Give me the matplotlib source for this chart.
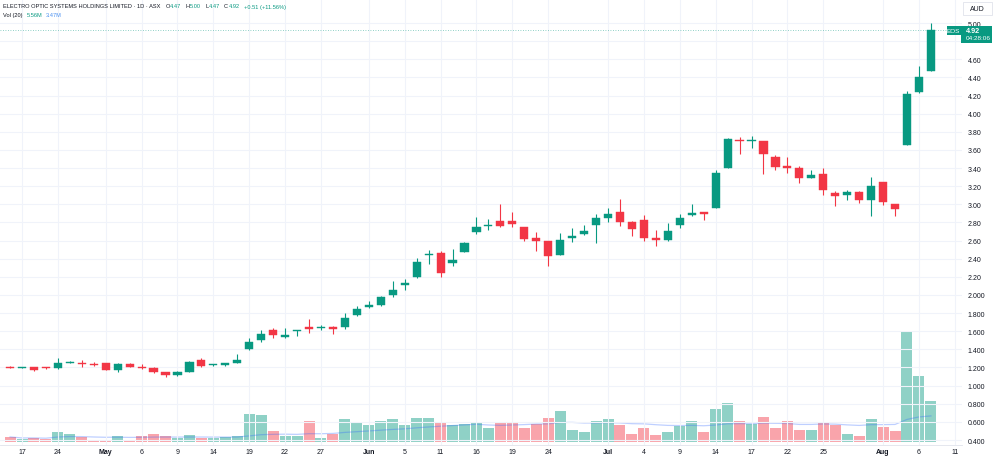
import numpy as np
import pandas as pd
import matplotlib
matplotlib.use("Agg")
import matplotlib.pyplot as plt
from matplotlib.patches import Rectangle

plt.rcParams['font.family'] = ['Liberation Sans', 'DejaVu Sans']

GREEN = '#089981'
RED = '#F23645'
TEXT = '#131722'
GRID = '#f0f3fa'

# ASX trading days, Apr 16 - Aug 7 2025 (plus a few empty slots on the right)
holidays = ["2025-04-18", "2025-04-21", "2025-04-25", "2025-06-09"]
days = pd.bdate_range("2025-04-16", "2025-08-12")
days = days[~days.isin(pd.to_datetime(holidays))]

opens = [1.20, 1.195, 1.20, 1.20, 1.19, 1.245, 1.25, 1.235, 1.25, 1.175, 1.24, 1.21, 1.19, 1.145, 1.115, 1.15, 1.28, 1.225, 1.23, 1.25,
         1.40, 1.50, 1.615, 1.535, 1.60, 1.64, 1.635, 1.65, 1.645, 1.78, 1.865, 1.885, 1.995, 2.11, 2.195, 2.445, 2.46, 2.35, 2.475, 2.69,
         2.765, 2.82, 2.82, 2.745, 2.63, 2.60, 2.445, 2.63, 2.675, 2.77, 2.845, 2.91, 2.81, 2.83, 2.63, 2.61, 2.77, 2.885, 2.92, 2.96,
         3.405, 3.715, 3.695, 3.70, 3.52, 3.42, 3.40, 3.29, 3.34, 3.12, 3.105, 3.14, 3.05, 3.245, 3.00, 3.65, 4.235, 4.47]
closes = [1.195, 1.20, 1.175, 1.19, 1.245, 1.255, 1.235, 1.225, 1.175, 1.24, 1.21, 1.19, 1.145, 1.115, 1.145, 1.265, 1.22, 1.235, 1.245, 1.285,
          1.48, 1.575, 1.555, 1.56, 1.61, 1.63, 1.645, 1.625, 1.75, 1.845, 1.885, 1.975, 2.055, 2.135, 2.365, 2.45, 2.245, 2.385, 2.57, 2.745,
          2.775, 2.765, 2.785, 2.62, 2.60, 2.43, 2.605, 2.65, 2.71, 2.85, 2.89, 2.80, 2.73, 2.63, 2.605, 2.71, 2.85, 2.905, 2.895, 3.35,
          3.72, 3.695, 3.705, 3.56, 3.415, 3.405, 3.285, 3.32, 3.155, 3.095, 3.14, 3.05, 3.205, 3.025, 2.945, 4.22, 4.41, 4.92]
highs = [1.215, 1.205, 1.21, 1.21, 1.31, 1.275, 1.28, 1.26, 1.25, 1.245, 1.245, 1.235, 1.20, 1.15, 1.165, 1.27, 1.305, 1.24, 1.25, 1.35,
         1.52, 1.61, 1.64, 1.635, 1.615, 1.74, 1.67, 1.655, 1.80, 1.875, 1.93, 1.985, 2.15, 2.18, 2.405, 2.495, 2.49, 2.505, 2.585, 2.86,
         2.84, 3.00, 2.91, 2.75, 2.70, 2.60, 2.68, 2.735, 2.77, 2.89, 2.96, 3.06, 2.815, 2.88, 2.72, 2.79, 2.89, 3.00, 2.92, 3.38,
         3.73, 3.74, 3.75, 3.70, 3.545, 3.525, 3.42, 3.38, 3.40, 3.145, 3.16, 3.145, 3.30, 3.25, 3.00, 4.25, 4.53, 5.00]
lows = [1.195, 1.19, 1.165, 1.185, 1.18, 1.245, 1.21, 1.215, 1.175, 1.155, 1.20, 1.18, 1.14, 1.10, 1.105, 1.15, 1.20, 1.215, 1.215, 1.245,
        1.39, 1.48, 1.53, 1.53, 1.55, 1.58, 1.61, 1.575, 1.62, 1.77, 1.855, 1.88, 1.98, 2.06, 2.19, 2.345, 2.20, 2.32, 2.47, 2.67,
        2.72, 2.755, 2.75, 2.59, 2.49, 2.315, 2.44, 2.58, 2.665, 2.57, 2.81, 2.765, 2.65, 2.59, 2.545, 2.60, 2.74, 2.87, 2.83, 2.955,
        3.40, 3.55, 3.62, 3.335, 3.38, 3.35, 3.23, 3.285, 3.10, 2.98, 3.05, 3.01, 2.875, 2.99, 2.87, 3.65, 4.23, 4.47]
# volume in millions of shares
volume_m = [0.72, 0.45, 0.58, 0.45, 1.34, 1.07, 0.72, 0.36, 0.36, 0.80, 0.36, 0.80, 1.07, 0.80, 0.58, 0.94, 0.62, 0.53, 0.67, 0.85,
            3.79, 3.70, 1.52, 0.85, 0.85, 2.90, 0.62, 1.16, 3.08, 2.72, 2.36, 2.85, 3.08, 2.36, 3.30, 3.21, 2.59, 2.36, 2.41, 2.54,
            1.87, 2.59, 2.59, 1.92, 2.41, 3.26, 4.19, 1.60, 1.43, 2.81, 3.08, 2.27, 1.07, 1.87, 0.98, 1.38, 2.19, 2.85, 1.34, 4.50,
            5.26, 2.85, 2.45, 3.39, 1.96, 2.85, 1.69, 1.60, 2.72, 2.27, 1.11, 0.80, 3.08, 2.00, 1.47, 14.8, 8.85, 5.56]

tick_dates = ["2025-04-17", "2025-04-24", "2025-05-01", "2025-05-06", "2025-05-09", "2025-05-14", "2025-05-19",
              "2025-05-22", "2025-05-27", "2025-06-02", "2025-06-05", "2025-06-11", "2025-06-16", "2025-06-19",
              "2025-06-24", "2025-07-01", "2025-07-04", "2025-07-09", "2025-07-14", "2025-07-17", "2025-07-22",
              "2025-07-25", "2025-08-01", "2025-08-06", "2025-08-11"]
tick_labels = ["17", "24", "May", "6", "9", "14", "19", "22", "27", "Jun", "5", "11", "16", "19", "24",
               "Jul", "4", "9", "14", "17", "22", "25", "Aug", "6", "11"]

# 4.80 sits under the last-price label, so it is left blank
price_ticks = [0.4, 0.6, 0.8, 1.0, 1.2, 1.4, 1.6, 1.8, 2.0, 2.2, 2.4, 2.6, 2.8, 3.0,
               3.2, 3.4, 3.6, 3.8, 4.0, 4.2, 4.4, 4.6, 4.8, 5.0]
price_labels = ["0.400", "0.600", "0.800", "1.000", "1.200", "1.400", "1.600", "1.800", "2.000",
                "2.20", "2.40", "2.60", "2.80", "3.00", "3.20", "3.40", "3.60", "3.80", "4.00",
                "4.20", "4.40", "4.60", "", "5.00"]

header_parts = [("ELECTRO OPTIC SYSTEMS HOLDINGS LIMITED \u00b7 1D \u00b7 ASX", TEXT, 5),
                ("O", TEXT, 0.5), ("4.47", GREEN, 4), ("H", TEXT, 0.5), ("5.00", GREEN, 4),
                ("L", TEXT, 0.5), ("4.47", GREEN, 4), ("C", TEXT, 0.5), ("4.92", GREEN, 4),
                ("+0.51 (+11.56%)", GREEN, 0)]
vol_parts = [("Vol (20)", TEXT, 4), ("5.56M", GREEN, 4), ("3.47M", '#4a90f0', 0)]


def fpos(x, y):
    # pixel position in the 1000x460 image -> figure fraction
    return x / 1000.0, 1 - y / 460.0


def text_row(fig, x, y, parts, size):
    r = fig.canvas.get_renderer()
    for s, color, gap in parts:
        t = fig.text(*fpos(x, y), s, fontsize=size, color=color, va='center')
        x += t.get_window_extent(renderer=r).width + gap


def box(fig, x0, y0, x1, y1, **kw):
    fx, fy = fpos(x0, y1)
    fig.add_artist(Rectangle((fx, fy), (x1 - x0) / 1000, (y1 - y0) / 460,
                             transform=fig.transFigure, zorder=5, **kw))


def main():
    o = np.array(opens)
    c = np.array(closes)
    h = np.array(highs)
    l = np.array(lows)
    v = np.array(volume_m)
    x = np.arange(len(o))
    up = c >= o
    col = np.where(up, GREEN, RED)

    fig = plt.figure(figsize=(10, 4.6), dpi=100)
    ax = fig.add_axes([0.0, 14 / 460, 0.962, 446 / 460])
    axv = ax.twinx()
    ax.set_zorder(axv.get_zorder() + 1)
    ax.patch.set_visible(False)

    # volume
    axv.bar(x, v, width=0.92, color=col, alpha=0.45, linewidth=0)
    ma = pd.Series(v).rolling(20, min_periods=1).mean()
    axv.plot(x, ma, color='#2962ff', alpha=0.3, lw=0.9)
    axv.set_ylim(-0.36, 59.27)
    axv.set_yticks([])
    for s in axv.spines.values():
        s.set_visible(False)

    # candles
    ax.vlines(x, l, h, colors=col, lw=0.8)
    body_lo = np.minimum(o, c)
    body_h = np.maximum(np.abs(c - o), 0.012)
    ax.bar(x, body_h, bottom=body_lo, width=0.68, color=col, edgecolor=col, linewidth=0.3)
    ax.axhline(c[-1], color=GREEN, ls=(0, (1, 2)), lw=0.6, alpha=0.6)

    tick_pos = [days.get_loc(pd.Timestamp(d)) for d in tick_dates]
    ax.set_xlim(-0.84, 79.6)
    ax.set_ylim(0.345, 5.265)
    ax.set_xticks(tick_pos)
    ax.set_xticklabels(tick_labels)
    for t, lab in zip(ax.get_xticklabels(), tick_labels):
        if lab.isalpha():
            t.set_fontweight('bold')
    ax.set_yticks(price_ticks)
    ax.set_yticklabels(price_labels)
    ax.yaxis.tick_right()
    ax.tick_params(axis='x', length=0, pad=2, labelsize=5, labelcolor=TEXT)
    ax.tick_params(axis='y', length=0, pad=4, labelsize=5, labelcolor=TEXT)
    ax.grid(color=GRID, lw=0.8)
    ax.set_axisbelow(True)
    for s in ax.spines.values():
        s.set_visible(False)
    ax.spines['bottom'].set_visible(True)
    ax.spines['bottom'].set_color('#e0e3eb')
    ax.spines['bottom'].set_linewidth(0.6)

    # header
    text_row(fig, 3, 7, header_parts, 4.1)
    text_row(fig, 3, 15.5, vol_parts, 4.1)

    # currency box
    box(fig, 963, 2.7, 992, 15.7, facecolor='white', edgecolor='#e0e3eb', lw=0.6)
    fig.text(*fpos(977.5, 9.2), "AUD", fontsize=5, color=TEXT, ha='center', va='center', zorder=6)

    # last price labels
    box(fig, 946.5, 27, 960.5, 36, facecolor=GREEN, edgecolor='none')
    fig.text(*fpos(953.5, 31.5), "EOS", fontsize=4.6, color='white', ha='center', va='center', zorder=6)
    box(fig, 961, 27, 992, 43.5, facecolor=GREEN, edgecolor='none')
    fig.text(*fpos(966, 31.5), "4.92", fontsize=5.2, color='white', va='center', fontweight='bold', zorder=6)
    fig.text(*fpos(965.5, 39), "04:28:06", fontsize=4.6, color='white', va='center', zorder=6)

    fig.savefig("out.png", dpi=100, facecolor='white')


if __name__ == '__main__':
    main()
